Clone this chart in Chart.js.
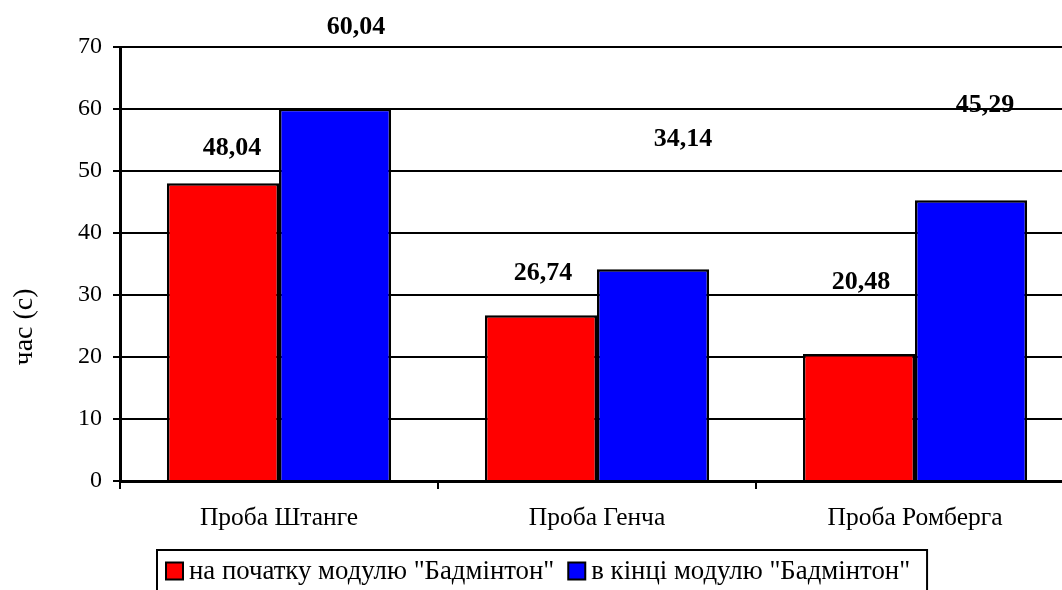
<!DOCTYPE html>
<html>
<head>
<meta charset="utf-8">
<script src="https://cdn.jsdelivr.net/npm/chart.js@4.4.1/dist/chart.umd.min.js"></script>
<style>
  html, body { margin: 0; padding: 0; background: #fff; overflow: hidden; width: 1062px; height: 590px; }
  #wrap { position: relative; width: 1084px; height: 620px; }
</style>
</head>
<body>
<div id="wrap"><canvas id="c" width="1084" height="620"></canvas></div>
<script>
// Test results before and after the badminton module
const categories = ['Проба Штанге', 'Проба Генча', 'Проба Ромберга'];
const seriesNames = ['на початку модулю "Бадмінтон"', 'в кінці модулю "Бадмінтон"'];
const startValues = [48.04, 26.74, 20.48];
const endValues = [60.04, 34.14, 45.29];
const yTicks = [0, 10, 20, 30, 40, 50, 60, 70];
const axisTitle = 'час (с)';

const seriesColors = ['#ff0000', '#0000ff'];
// where each value label sits relative to the top centre of its bar (px)
const labelShift = [
  [[9, -35], [2, -42], [2, -72]],
  [[21, -81], [30, -130], [14, -95]]
];

const SERIF = "'Liberation Serif', 'Times New Roman', serif";

const valueLabels = {
  id: 'valueLabels',
  afterDatasetsDraw(chart) {
    const ctx = chart.ctx;
    ctx.save();
    ctx.font = 'bold 26px ' + SERIF;
    ctx.fillStyle = '#000';
    ctx.textAlign = 'center';
    ctx.textBaseline = 'middle';
    chart.data.datasets.forEach((ds, di) => {
      chart.getDatasetMeta(di).data.forEach((bar, i) => {
        const [dx, dy] = labelShift[di][i];
        const txt = ds.data[i].toFixed(2).replace('.', ',');
        ctx.fillText(txt, bar.x + dx, bar.y + dy);
      });
    });
    ctx.restore();
  }
};

const sideTitle = {
  id: 'sideTitle',
  afterDraw(chart) {
    const ctx = chart.ctx;
    const a = chart.chartArea;
    ctx.save();
    ctx.font = '28px ' + SERIF;
    ctx.fillStyle = '#000';
    ctx.textAlign = 'center';
    ctx.textBaseline = 'middle';
    ctx.translate(25, a.top + (a.bottom - a.top) * 0.645);
    ctx.rotate(-Math.PI / 2);
    ctx.fillText(axisTitle, 0, 0);
    ctx.restore();
  }
};

const boxedLegend = {
  id: 'boxedLegend',
  afterDraw(chart) {
    const ctx = chart.ctx;
    const a = chart.chartArea;
    ctx.save();
    ctx.font = '26.8px ' + SERIF;
    const sw = 17, gap = 6, itemGap = 14, padL = 9, padR = 17;
    const items = chart.data.datasets.map(ds => ({
      text: ds.label, color: ds.backgroundColor, w: ctx.measureText(ds.label).width
    }));
    let total = padL + padR;
    items.forEach((it, i) => { total += sw + gap + it.w + (i ? itemGap : 0); });
    const left = Math.round(chart.width / 2 - total / 2);
    const top = a.bottom + 69;
    ctx.lineWidth = 2;
    ctx.strokeStyle = '#000';
    ctx.strokeRect(left, top, total, 48);
    const cy = top + 21;
    let x = left + padL;
    items.forEach((it, i) => {
      if (i) x += itemGap;
      ctx.fillStyle = it.color;
      ctx.fillRect(x, cy - sw / 2, sw, sw);
      ctx.strokeRect(x, cy - sw / 2, sw, sw);
      x += sw + gap;
      ctx.fillStyle = '#000';
      ctx.textAlign = 'left';
      ctx.textBaseline = 'middle';
      ctx.fillText(it.text, x, cy + 1);
      x += it.w;
    });
    ctx.restore();
  }
};

new Chart(document.getElementById('c'), {
  type: 'bar',
  data: {
    labels: categories,
    datasets: [
      { label: seriesNames[0], data: startValues, backgroundColor: seriesColors[0], borderColor: '#000', borderWidth: 2.5 },
      { label: seriesNames[1], data: endValues, backgroundColor: seriesColors[1], borderColor: '#000', borderWidth: 2.5 }
    ]
  },
  options: {
    responsive: false,
    animation: false,
    events: [],
    categoryPercentage: 0.705,
    barPercentage: 1,
    layout: { padding: { top: 47, right: 10, left: 0, bottom: 59 } },
    plugins: { legend: { display: false }, tooltip: { enabled: false } },
    scales: {
      x: {
        grid: { display: true, drawOnChartArea: false, drawTicks: true, tickLength: 8, color: '#000', lineWidth: 2, offset: true },
        border: { display: true, color: '#000', width: 3 },
        ticks: { font: { family: SERIF, size: 25.5 }, color: '#000', padding: 14, maxRotation: 0, autoSkip: false },
        afterFit(s) { s.height = 80; }
      },
      y: {
        min: 0,
        max: 70,
        afterBuildTicks(s) { s.ticks = yTicks.map(v => ({ value: v })); },
        grid: { color: '#000', lineWidth: 2, tickLength: 7, drawTicks: true },
        border: { display: true, color: '#000', width: 3 },
        ticks: { font: { family: SERIF, size: 24 }, color: '#000', padding: 11 },
        afterFit(s) { s.width = 120; }
      }
    }
  },
  plugins: [valueLabels, sideTitle, boxedLegend]
});
</script>
</body>
</html>
